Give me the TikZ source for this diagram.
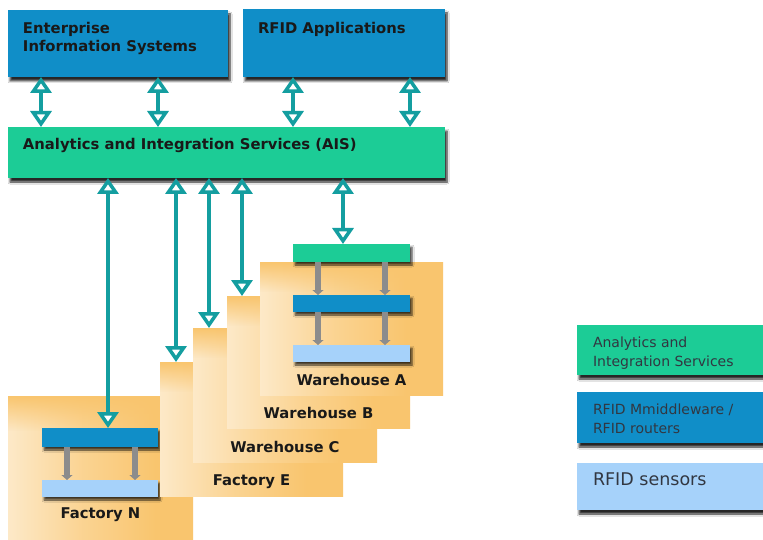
\documentclass[tikz,border=0pt]{standalone}
\usepackage{fontspec}
\setmainfont{DejaVu Sans}
\usetikzlibrary{arrows.meta,shadows.blur,fadings,calc}
\definecolor{cblue}{RGB}{16,142,200}
\definecolor{cgreen}{RGB}{28,204,150}
\definecolor{clight}{RGB}{166,210,250}
\definecolor{cteal}{RGB}{20,158,160}
\definecolor{corange}{RGB}{249,197,110}
\definecolor{cgray}{RGB}{140,140,140}
\definecolor{ctext}{RGB}{25,25,25}
\definecolor{cltext}{RGB}{50,55,65}
\pgfdeclarehorizontalshading{panelshade}{100bp}{color(0bp)=(corange!40!white); color(18bp)=(corange!25!white); color(45bp)=(corange!75!white); color(65bp)=(corange); color(100bp)=(corange)}
\tikzset{
  box/.style={inner sep=0pt, outer sep=0pt, anchor=north west,
    blur shadow={shadow xshift=2pt, shadow yshift=-4pt, shadow blur radius=2pt, shadow blur steps=6, shadow opacity=85}},
  bar/.style={inner sep=0pt, outer sep=0pt, anchor=north west,
    blur shadow={shadow xshift=2pt, shadow yshift=-3pt, shadow blur radius=2pt, shadow blur steps=5, shadow opacity=75}},
  btxt/.style={inner sep=0pt, outer sep=0pt, align=left, text=ctext,
    font=\fontsize{14.8}{18}\selectfont\bfseries},
  ltxt/.style={inner sep=0pt, outer sep=0pt, align=left, text=cltext,
    font=\fontsize{14}{19}\selectfont},
  panel/.style={inner sep=0pt, outer sep=0pt, anchor=north west, shading=panelshade},
  ptxt/.style={inner sep=0pt, outer sep=0pt, anchor=base, text=ctext,
    font=\fontsize{14.8}{18}\selectfont\bfseries},
  tarrow/.style={draw=cteal, line width=4.5pt,
    {Triangle[fill=white, length=16pt, width=21pt, line width=3.5pt]}-{Triangle[fill=white, length=16pt, width=21pt, line width=3.5pt]}},
  garrow/.style={draw=cgray, line width=6.5pt, -{Triangle[length=5pt, width=11pt]}},
}
\begin{document}
\begin{tikzpicture}[x=1pt, y=-1pt]
\useasboundingbox (0,0) rectangle (763,540);
\fill[white] (0,0) rectangle (763,540);

% top boxes
\node[box, fill=cblue, minimum width=220pt, minimum height=67pt] (eis) at (8,10) {};
\node[btxt, anchor=north west] (eist) at ($(eis.north west)+(15,12)$) {Enterprise\\Information Systems};
\node[box, fill=cblue, minimum width=202pt, minimum height=68pt] (app) at (243,9) {};
\node[btxt, anchor=north west] (appt) at ($(app.north west)+(15,13)$) {RFID Applications};
\node[box, fill=cgreen, minimum width=437pt, minimum height=51pt] (ais) at (8,127) {};
\node[btxt, anchor=north west] (aist) at ($(ais.north west)+(15,11)$) {Analytics and Integration Services (AIS)};

% Factory N
\node[panel, minimum width=185pt, minimum height=150pt] (pn) at (8,396) {};
\fill[corange, path fading=south] (pn.north west) rectangle ($(pn.north east)+(0,35)$);
\node[bar, fill=cblue, minimum width=116pt, minimum height=19pt] (nb) at (42,428) {};
\node[bar, fill=clight, minimum width=116pt, minimum height=17pt] (nl) at (42,480) {};
\draw[garrow] (nb.south -| 67,0) -- (nl.north -| 67,0);
\draw[garrow] (nb.south -| 135,0) -- (nl.north -| 135,0);
\node[ptxt] (pnt) at (100,518 -| pn.north) {Factory N};

% Factory E
\node[panel, minimum width=183pt, minimum height=134pt] (pe) at (160,362) {};
\fill[corange, path fading=south] (pe.north west) rectangle ($(pe.north east)+(0,30)$);
\node[ptxt] (pet) at ($(pe.south)+(0,-11)$) {Factory E};

% Warehouse C
\node[panel, minimum width=184pt, minimum height=134pt] (pc) at (193,328) {};
\fill[corange, path fading=south] (pc.north west) rectangle ($(pc.north east)+(0,30)$);
\node[ptxt] (pct) at ($(pc.south)+(0,-10)$) {Warehouse C};

% Warehouse B
\node[panel, minimum width=183pt, minimum height=132pt] (pb) at (227,296) {};
\fill[corange, path fading=south] (pb.north west) rectangle ($(pb.north east)+(0,30)$);
\node[ptxt] (pbt) at ($(pb.south)+(0,-10)$) {Warehouse B};

% Warehouse A
\node[panel, minimum width=183pt, minimum height=133pt] (pa) at (260,262) {};
\fill[corange, path fading=south] (pa.north west) rectangle ($(pa.north east)+(0,30)$);
\node[ptxt] (pat) at ($(pa.south)+(0,-10)$) {Warehouse A};
\node[bar, fill=cgreen, minimum width=117pt, minimum height=18pt] (ag) at (293,244) {};
\node[bar, fill=cblue, minimum width=117pt, minimum height=17pt] (ab) at (293,295) {};
\node[bar, fill=clight, minimum width=117pt, minimum height=17pt] (al) at (293,345) {};
\draw[garrow] (ag.south -| 318,0) -- (ab.north -| 318,0);
\draw[garrow] (ag.south -| 385,0) -- (ab.north -| 385,0);
\draw[garrow] (ab.south -| 318,0) -- (al.north -| 318,0);
\draw[garrow] (ab.south -| 385,0) -- (al.north -| 385,0);

% teal arrows top
\draw[tarrow] (eis.south -| 41,0) -- (ais.north -| 41,0);
\draw[tarrow] (eis.south -| 158,0) -- (ais.north -| 158,0);
\draw[tarrow] (app.south -| 293,0) -- (ais.north -| 293,0);
\draw[tarrow] (app.south -| 410,0) -- (ais.north -| 410,0);
% teal arrows bottom
\draw[tarrow] (ais.south -| 108,0) -- (nb.north -| 108,0);
\draw[tarrow] (ais.south -| 176,0) -- (pe.north -| 176,0);
\draw[tarrow] (ais.south -| 209,0) -- (pc.north -| 209,0);
\draw[tarrow] (ais.south -| 242,0) -- (pb.north -| 242,0);
\draw[tarrow] (ais.south -| 343,0) -- (ag.north -| 343,0);

% legend
\node[box, fill=cgreen, minimum width=186pt, minimum height=50pt] (lg1) at (577,325) {};
\node[ltxt, anchor=north west] (lg1t) at ($(lg1.north west)+(16,12)$) {Analytics and\\Integration Services};
\node[box, fill=cblue, minimum width=186pt, minimum height=51pt] (lg2) at (577,392) {};
\node[ltxt, anchor=north west] (lg2t) at ($(lg2.north west)+(16,12)$) {RFID Mmiddleware /\\RFID routers};
\node[box, fill=clight, minimum width=186pt, minimum height=47pt] (lg3) at (577,463) {};
\node[ltxt, anchor=north west, font=\fontsize{17.5}{20}\selectfont] (lg3t) at ($(lg3.north west)+(16,10)$) {RFID sensors};
\end{tikzpicture}
\end{document}
